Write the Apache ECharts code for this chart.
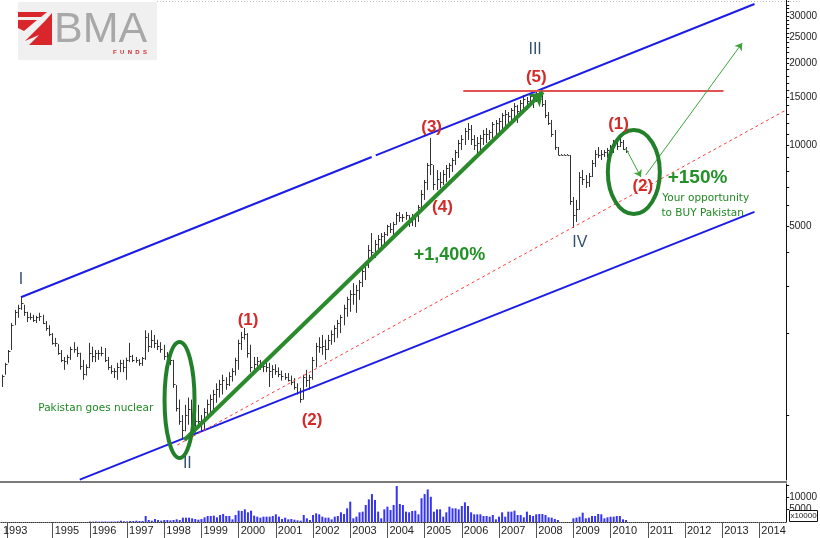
<!DOCTYPE html>
<html><head><meta charset="utf-8">
<script src="https://cdn.jsdelivr.net/npm/echarts@6/dist/echarts.min.js"></script>
<style>html,body{margin:0;padding:0;background:#fff}#c{width:820px;height:538px}</style>
</head><body><div id="c"></div>
<script>
// ---- data (monthly bars, starting Sep 1993) ----
const FIRST_YEAR = 1993, FIRST_MONTH = 9;
const high = [
1410,1560,1740,2190,2450,2560,2710,2560,2410,2390,
2350,2330,2390,2350,2230,2150,2010,1930,1830,1740,
1640,1670,1790,1860,1790,1700,1600,1540,1850,1790,
1740,1740,1790,1770,1640,1530,1490,1560,1600,1600,
1630,1850,1670,1640,1610,1640,2060,2010,2060,1980,
1900,1860,1820,1710,1740,1600,1290,1140,1000,1090,
1160,1140,1040,1090,1000,1060,1140,1190,1240,1310,
1350,1410,1380,1440,1490,1630,1900,2030,2100,2010,
1820,1640,1640,1600,1570,1570,1560,1530,1540,1500,
1460,1430,1430,1400,1370,1310,1260,1410,1470,1410,
1640,1850,1940,1980,1900,1980,2060,2150,2250,2350,
2560,2740,2900,3080,3030,3160,3530,3690,4260,4720,
4450,4640,4720,4760,5060,5140,5190,5600,5650,5550,
5650,5500,5550,5600,6000,6810,7420,8580,10620,8430,
8080,7940,8080,8430,8580,8950,9580,10440,10890,11560,
12070,11860,10890,10710,10890,11370,11560,11370,12170,12380,
12590,13140,13480,13250,13710,14310,14070,14680,15320,15060,
15580,15320,15850,15710,15320,14680,13250,12380,11370,9830,
9200,9200,9200,9180,6420,6260,7940,8080,7740,7880,
8800,9580,9830,9580,9580,9750,10000,10440,10260,10710,
10440,9830];
const low = [
1270,1410,1560,1740,2150,2290,2450,2330,2210,2250,
2210,2190,2230,2170,2050,1960,1820,1790,1670,1570,
1470,1540,1600,1700,1640,1470,1350,1400,1490,1570,
1570,1600,1650,1570,1470,1420,1370,1350,1440,1440,
1350,1570,1570,1560,1520,1520,1600,1710,1770,1770,
1740,1700,1600,1530,1530,1260,1030,920,810,870,
920,830,860,900,870,880,970,1020,1040,1110,
1160,1190,1240,1280,1330,1400,1470,1740,1900,1630,
1440,1440,1490,1470,1440,1440,1270,1370,1410,1380,
1340,1350,1330,1290,1240,1190,1110,1140,1270,1240,
1350,1500,1700,1670,1600,1740,1820,1860,1930,2010,
2150,2310,2410,2560,2390,2670,2980,3160,3500,3750,
3820,4080,4190,4260,4600,4720,4640,5060,5190,5190,
5280,4970,5010,4970,5190,5750,6260,6810,7740,6810,
6810,6930,7110,7290,7550,7940,8430,8950,9580,10000,
10440,10000,9580,9340,9580,10000,10170,10440,10620,10800,
11180,11370,11660,11860,12380,12590,12070,12920,13250,13480,
14070,13710,14430,14070,13830,12590,11860,10710,9580,9180,
9180,9180,9180,6000,4930,5190,5750,7110,6930,6990,
7610,8290,8950,8800,9030,8950,9180,9340,9580,9830,
9580,9340];
const close = [
1400,1540,1720,2150,2400,2500,2600,2400,2300,2300,
2250,2300,2330,2200,2100,2000,1850,1850,1700,1600,
1580,1640,1760,1750,1700,1520,1420,1500,1700,1650,
1700,1700,1700,1600,1500,1450,1450,1500,1560,1500,
1600,1650,1600,1600,1560,1620,1950,1800,1900,1850,
1800,1750,1650,1600,1600,1300,1060,950,880,1000,
1050,900,950,950,950,1030,1100,1150,1200,1250,
1300,1350,1300,1400,1450,1600,1850,1950,2000,1700,
1500,1550,1580,1500,1520,1500,1450,1480,1450,1420,
1400,1380,1350,1320,1270,1220,1150,1380,1350,1380,
1600,1800,1780,1800,1750,1900,2000,2100,2200,2300,
2500,2700,2800,2800,2900,3100,3400,3600,4100,4000,
4300,4500,4600,4700,5000,4900,5100,5500,5400,5400,
5500,5200,5300,5500,5900,6600,7300,8400,8500,7200,
7500,7300,7800,8200,8400,8800,9400,10200,10500,11300,
11500,10500,10000,10200,10600,11000,11000,11200,12000,12100,
12300,12900,13000,12800,13500,14000,13400,14300,14800,14500,
15200,15000,15600,14800,14200,12900,12100,11000,9800,9200,
9190,9190,9190,6200,5500,5800,7600,7500,7300,7700,
8600,9300,9200,9300,9400,9600,9800,10200,9900,10300,
9700,9500];
const volume = [
0,0,0,0,0,0,0,0,0,0,0,0,0,0,0,0,0,0,0,0,0,0,0,0,0,0,0,0,
200,150,200,150,200,200,150,200,200,250,540,300,270,400,400,540,400,410,
2450,820,540,1220,820,540,820,820,680,820,1090,820,
1770,1770,1770,1500,1220,950,1220,1910,2450,2450,2590,1910,
2860,3270,2450,2450,1090,2860,4630,4490,5170,3950,4630,2590,
2180,1770,2180,2180,2180,2450,3130,2180,1220,1770,1090,1220,
950,680,540,2860,1500,820,2860,3540,3130,2180,1770,1770,
1090,2180,2450,3950,3270,5580,8300,1500,2180,3950,4220,6940,
9250,11400,8980,4220,1500,5170,6260,4900,6940,14700,7350,6940,
4220,3950,4490,4630,3130,9700,11400,13300,10300,4220,5170,5170,
2180,3950,6260,5580,5580,5170,6530,8030,6530,3950,3130,3130,
3130,2450,2450,2180,2860,1090,2180,3950,2180,4220,4220,4630,
2860,2860,1910,4220,2860,2450,3130,3270,3270,2860,1910,1770,
1220,820,0,0,0,0,1500,1770,2180,3810,1500,1770,
2450,2450,3270,3130,1500,1910,2180,2180,2450,2450,1090,820];

const yearTicks = [1995,1996,1997,1998,1999,2000,2001,2002,2003,2004,2005,2006,2007,2008,2009,2010,2011,2012,2013,2014];
const firstTick = 1993.77, firstLabelPos = 1993.61;
const priceLabels = [5000,10000,15000,20000,25000,30000];
const priceTicks = [1000,2000,3000,4000,5000,6000,7000,8000,9000,10000,11000,12000,13000,14000,15000,16000,17000,18000,19000,20000,21000,22000,23000,24000,25000,26000,27000,28000,29000,30000,31000,32000,33000,34000];
const volumeTicks = [5000,10000,15000];
const volumeLabels = [5000,10000];

// trend / channel lines [year, index value]
const upperChannelA = [[1994.17, 2730],[2003.59, 9030]];
const upperChannelB = [[2003.70, 9150],[2013.87, 33280]];
const lowerChannel = [[1995.75, 576],[2013.87, 5650]];
const midDashed = [[1998.37, 774],[2014.72, 13480]];
const peakLevel = [[2006.05, 15850],[2013.04, 15850]];
const bigArrow = [[1998.56, 808],[2008.19, 15710]];
const arrowDown = [[2010.41, 9750],[2010.82, 7610]];
const arrowUp = [[2010.95, 7740],[2013.54, 23870]];

// annotations [text, year, value]
const waveLabels = [['(1)',2000.27,2250],['(2)',2001.99,958],['(3)',2005.20,11660],['(4)',2005.49,5890],['(5)',2008.01,17860],['(1)',2010.22,11960],['(2)',2010.87,7050]];
const degreeLabels = [['I',1994.17,3160],['II',1998.64,658],['III',2007.98,22480],['IV',2009.18,4340]];
const gainLabels = [['+1,400%',2005.68,3910,18],['+150%',2012.34,7550,19]];
const noteLabels = [['Your opportunity',2012.56,6360],['to BUY Pakistan',2012.48,5600],['Pakistan goes nuclear',1996.18,1060]];
const ellipses = [[1998.43,1136,15,58],[2010.63,7940,26,42]];

const X_MIN = 1993.6085, X_MAX = 2014.7217;
const t0 = FIRST_YEAR + (FIRST_MONTH - 1) / 12;
const priceData = high.map((h, i) => [t0 + i / 12, h, low[i], close[i]]);
const volData = volume.map((v, i) => [t0 + i / 12, v]);

const chart = echarts.init(document.getElementById('c'), null, {renderer: 'canvas'});
const BLUE = '#1c1ce8', GREEN = '#2b8a2b';
const plain = v => String(Math.round(v));
function lineSeries(data, color, width, type) {
  return {type: 'line', xAxisIndex: 0, yAxisIndex: 0, data: data, symbol: 'none', silent: true,
    lineStyle: {color: color, width: width, type: type || 'solid'}, z: 3};
}
function arrowSeries(pts, color, width, size) {
  return {type: 'line', xAxisIndex: 0, yAxisIndex: 0, data: [], silent: true, z: 4,
    markLine: {silent: true, symbol: ['none', 'arrow'], symbolSize: size, animation: false,
      label: {show: false}, lineStyle: {color: color, width: width, type: 'solid'},
      emphasis: {disabled: true},
      data: [[{coord: pts[0]}, {coord: pts[1]}]]}};
}
const option = {
  animation: false,
  backgroundColor: '#ffffff',
  grid: [
    {left: 0, top: 0, width: 789, height: 480},
    {left: 0, top: 484, width: 789, height: 38}
  ],
  xAxis: [
    {type: 'value', gridIndex: 0, min: X_MIN, max: X_MAX, offset: 2,
      axisLine: {show: true, onZero: false, lineStyle: {color: '#7a7a7a', width: 2}},
      axisTick: {show: false}, axisLabel: {show: false}, splitLine: {show: false}},
    {type: 'value', gridIndex: 1, min: X_MIN, max: X_MAX,
      axisLine: {show: true, onZero: false, lineStyle: {color: '#333', width: 1, type: 'dotted'}},
      axisTick: {show: true, customValues: [firstTick].concat(yearTicks), length: 16, lineStyle: {color: '#555'}},
      axisLabel: {show: true, customValues: [firstLabelPos].concat(yearTicks), formatter: v => String(Math.floor(v + 1e-6)),
        align: 'left', padding: [0, 0, 0, 2], margin: 3, fontSize: 11, fontFamily: 'Liberation Sans', color: '#222'},
      splitLine: {show: false}}
  ],
  yAxis: [
    {type: 'log', logBase: 10, gridIndex: 0, position: 'right', min: 574.3, max: 34443,
      axisLine: {show: true, lineStyle: {color: '#111', width: 1}},
      axisTick: {show: true, customValues: priceTicks, length: 3, lineStyle: {color: '#111'}},
      axisLabel: {show: true, customValues: priceLabels, formatter: plain, margin: 3, fontSize: 10, fontFamily: 'Liberation Sans', color: '#222'},
      splitLine: {show: false}, minorTick: {show: false}},
    {type: 'value', gridIndex: 1, position: 'right', min: 0, max: 15510,
      axisLine: {show: true, lineStyle: {color: '#111', width: 1}},
      axisTick: {show: true, customValues: volumeTicks, length: 3, lineStyle: {color: '#111'}},
      axisLabel: {show: true, customValues: volumeLabels, formatter: plain, margin: 3, fontSize: 10, fontFamily: 'Liberation Sans', color: '#222'},
      splitLine: {show: false}}
  ],
  series: [
    {type: 'custom', name: 'price', xAxisIndex: 0, yAxisIndex: 0, data: priceData, silent: true, z: 2,
      encode: {x: 0, y: [1, 2, 3]},
      renderItem: function (params, api) {
        const t = api.value(0);
        const ph = api.coord([t, api.value(1)]);
        const pl = api.coord([t, api.value(2)]);
        const pc = api.coord([t, api.value(3)]);
        const x = Math.round(ph[0]) + 0.5;
        const yc = Math.round(pc[1]) + 0.5;
        const y1 = Math.min(ph[1], pl[1] - 1);
        return {type: 'group', children: [
          {type: 'line', shape: {x1: x, y1: y1, x2: x, y2: pl[1]}, style: {stroke: '#333', lineWidth: 1}},
          {type: 'line', shape: {x1: x, y1: yc, x2: x + 2, y2: yc}, style: {stroke: '#333', lineWidth: 1}}
        ]};
      }},
    {type: 'bar', name: 'volume', xAxisIndex: 1, yAxisIndex: 1, data: volData, barWidth: 2, silent: true,
      itemStyle: {color: '#3434f2'}},
    lineSeries(upperChannelA, BLUE, 2),
    lineSeries(upperChannelB, BLUE, 2),
    lineSeries(lowerChannel, BLUE, 2),
    lineSeries(midDashed, '#ff3c3c', 1, [3, 3]),
    lineSeries(peakLevel, '#e25252', 2),
    arrowSeries(bigArrow, GREEN, 4, 13),
    arrowSeries(arrowDown, '#3ca33c', 1, 7),
    arrowSeries(arrowUp, '#3ca33c', 1, 7)
  ]
};
chart.setOption(option);

function px(t, v) { return chart.convertToPixel({gridIndex: 0}, [t, v]); }
const g = [];
// logo
g.push({type: 'rect', shape: {x: 18, y: 2, width: 139, height: 58}, style: {fill: '#f0f0f0'}, z: 20});
g.push({type: 'polygon', shape: {points: [[18,12],[47,12],[41,17],[18,17]]}, style: {fill: '#d9262b'}, z: 21});
g.push({type: 'polygon', shape: {points: [[18,20],[37,20],[24,31],[18,28]]}, style: {fill: '#d9262b'}, z: 21});
g.push({type: 'polygon', shape: {points: [[52,13],[52,45],[29,45],[39,35],[25,41],[45,21]]}, style: {fill: '#d9262b'}, z: 21});
g.push({type: 'text', x: 54, y: 30, style: {text: 'BMA', font: '43px "Liberation Sans"', fill: '#a8a8a8', align: 'left', verticalAlign: 'middle'}, z: 21});
g.push({type: 'text', x: 130, y: 52, style: {text: 'F  U  N  D  S', font: 'bold 6px "Liberation Sans"', fill: '#d03030', align: 'center', verticalAlign: 'middle'}, z: 21});
// top dotted border
g.push({type: 'line', shape: {x1: 157, y1: 1.5, x2: 800, y2: 1.5}, style: {stroke: '#c4c4c4', lineWidth: 1, lineDash: [1, 2]}, z: 5});
// ellipses
ellipses.forEach(e => {
  const p = px(e[0], e[1]);
  g.push({type: 'ellipse', shape: {cx: p[0], cy: p[1], rx: e[2], ry: e[3]}, style: {fill: 'none', stroke: '#23802a', lineWidth: 4}, z: 10});
});
waveLabels.forEach(l => {
  const p = px(l[1], l[2]);
  g.push({type: 'text', x: p[0], y: p[1], style: {text: l[0], font: 'bold 17px "Liberation Sans"', fill: '#d42a2a', align: 'center', verticalAlign: 'middle'}, z: 12});
});
degreeLabels.forEach(l => {
  const p = px(l[1], l[2]);
  g.push({type: 'text', x: p[0], y: p[1], style: {text: l[0], font: '16px "Liberation Sans"', fill: '#34506e', align: 'center', verticalAlign: 'middle'}, z: 12});
});
gainLabels.forEach(l => {
  const p = px(l[1], l[2]);
  g.push({type: 'text', x: p[0], y: p[1], style: {text: l[0], font: 'bold ' + l[3] + 'px "Liberation Sans"', fill: '#249128', align: 'center', verticalAlign: 'middle'}, z: 12});
});
noteLabels.forEach(l => {
  const p = px(l[1], l[2]);
  g.push({type: 'text', x: p[0], y: p[1], style: {text: l[0], font: '10.5px "DejaVu Sans"', fill: '#1f8a22', align: 'center', verticalAlign: 'middle'}, z: 12});
});
// volume scale multiplier box
g.push({type: 'rect', shape: {x: 789.5, y: 510.5, width: 28, height: 11}, style: {fill: '#fff', stroke: '#111', lineWidth: 1}, z: 30});
g.push({type: 'text', x: 803.5, y: 516, style: {text: 'x10000', font: '8px "Liberation Sans"', fill: '#222', align: 'center', verticalAlign: 'middle'}, z: 31});
chart.setOption({graphic: g});
</script></body></html>
